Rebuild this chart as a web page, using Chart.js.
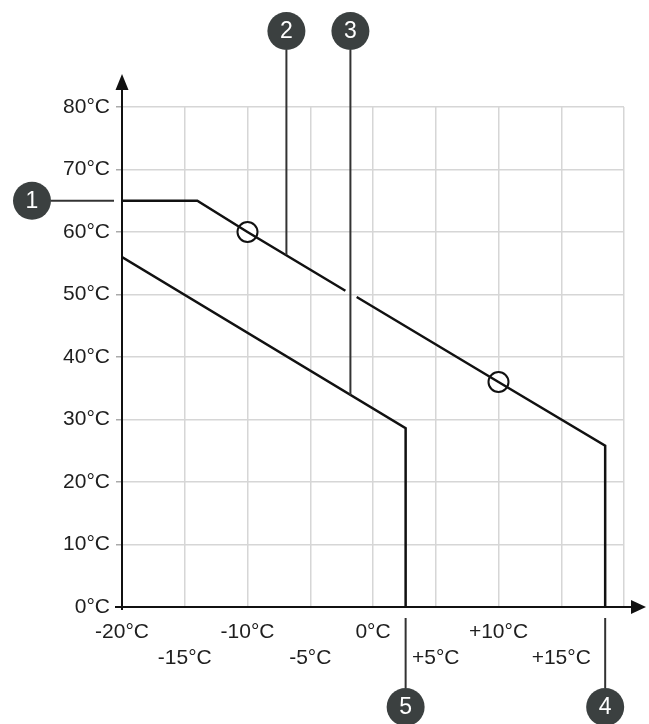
<!DOCTYPE html>
<html>
<head>
<meta charset="utf-8">
<script src="https://cdn.jsdelivr.net/npm/chart.js@4/dist/chart.umd.min.js"></script>
<style>
  html, body { margin: 0; padding: 0; background: #fff; }
  canvas { display: block; }
</style>
</head>
<body>
<canvas id="c" width="649" height="724"></canvas>
<script>
// Heating curves: outdoor temperature (x) against flow temperature (y)
const upperX = [-20, -14, -10, -2.2, -1.3, 10, 18.5, 18.5];
const upperY = [65, 65, 60, 50.6, 49.6, 36, 25.8, 0];
const upperBreakAfter = 3;          // the curve is interrupted where leader 3 passes
const lowerX = [-20, 2.6, 2.6];
const lowerY = [56, 28.6, 0];
const markerX = [-10, 10];
const markerY = [60, 36];

const xTickValues = [-20, -15, -10, -5, 0, 5, 10, 15, 20];
const xTickLabels = ['-20°C', '-15°C', '-10°C', '-5°C', '0°C', '+5°C', '+10°C', '+15°C', ''];
const xTickRow    = [0, 1, 0, 1, 0, 1, 0, 1, 0];
const yTickValues = [0, 10, 20, 30, 40, 50, 60, 70, 80];
const yTickLabels = ['0°C', '10°C', '20°C', '30°C', '40°C', '50°C', '60°C', '70°C', '80°C'];

// Numbered callouts: side, anchor value (y for left, x for top/bottom), end value of top leaders
const calloutLabels = ['1', '2', '3', '4', '5'];
const calloutSide   = ['left', 'top', 'top', 'bottom', 'bottom'];
const calloutAt     = [65, -6.9, -1.8, 18.5, 2.6];
const calloutEnd    = [null, 56.3, 33.9, null, null];

const FONT = 'Liberation Sans, Arial, Helvetica, sans-serif';

function buildUpper() {
  const pts = [];
  for (let i = 0; i < upperX.length; i++) {
    pts.push({ x: upperX[i], y: upperY[i] });
    if (i === upperBreakAfter) pts.push({ x: (upperX[i] + upperX[i + 1]) / 2, y: null });
  }
  return pts;
}

const decor = {
  id: 'decor',
  afterDatasetsDraw(chart) {
    const { ctx, scales: { x, y } } = chart;
    const x0 = x.getPixelForValue(-20);
    const y0 = y.getPixelForValue(0);
    const yTop = y.getPixelForValue(80);
    const xRight = x.getPixelForValue(20);
    ctx.save();

    // axes with arrowheads
    ctx.strokeStyle = '#111';
    ctx.fillStyle = '#111';
    ctx.lineWidth = 2;
    ctx.beginPath();
    ctx.moveTo(x0, y0 + 3);
    ctx.lineTo(x0, yTop - 20);
    ctx.moveTo(x0 - 7, y0);
    ctx.lineTo(xRight + 10, y0);
    ctx.stroke();
    ctx.beginPath();
    ctx.moveTo(x0, yTop - 33);
    ctx.lineTo(x0 - 6.5, yTop - 17);
    ctx.lineTo(x0 + 6.5, yTop - 17);
    ctx.closePath();
    ctx.fill();
    ctx.beginPath();
    ctx.moveTo(xRight + 22, y0);
    ctx.lineTo(xRight + 7, y0 - 7);
    ctx.lineTo(xRight + 7, y0 + 7);
    ctx.closePath();
    ctx.fill();

    // callouts
    const r = 19;
    for (let i = 0; i < calloutLabels.length; i++) {
      let cx, cy;
      ctx.strokeStyle = '#333';
      ctx.lineWidth = 2;
      ctx.beginPath();
      if (calloutSide[i] === 'left') {
        cy = y.getPixelForValue(calloutAt[i]);
        cx = 32;
        ctx.moveTo(cx + r, cy);
        ctx.lineTo(x0 - 8, cy);
      } else if (calloutSide[i] === 'top') {
        cx = x.getPixelForValue(calloutAt[i]);
        cy = 31;
        ctx.moveTo(cx, cy + r);
        ctx.lineTo(cx, y.getPixelForValue(calloutEnd[i]));
      } else {
        cx = x.getPixelForValue(calloutAt[i]);
        cy = 707;
        ctx.moveTo(cx, y0 + 11);
        ctx.lineTo(cx, cy - r);
      }
      ctx.stroke();
      ctx.fillStyle = '#3b4040';
      ctx.beginPath();
      ctx.arc(cx, cy, r, 0, Math.PI * 2);
      ctx.fill();
      ctx.fillStyle = '#fff';
      ctx.font = '23px ' + FONT;
      ctx.textAlign = 'center';
      ctx.textBaseline = 'middle';
      ctx.fillText(calloutLabels[i], cx, cy + 1);
    }
    ctx.restore();
  }
};

new Chart(document.getElementById('c'), {
  type: 'scatter',
  data: {
    datasets: [
      {
        data: buildUpper(),
        showLine: true,
        borderColor: '#111',
        borderWidth: 2.5,
        pointRadius: 0,
        tension: 0,
        spanGaps: false
      },
      {
        data: lowerX.map((v, i) => ({ x: v, y: lowerY[i] })),
        showLine: true,
        borderColor: '#111',
        borderWidth: 2.5,
        pointRadius: 0,
        tension: 0
      },
      {
        data: markerX.map((v, i) => ({ x: v, y: markerY[i] })),
        showLine: false,
        pointRadius: 10,
        pointBackgroundColor: '#fff',
        pointBorderColor: '#111',
        pointBorderWidth: 2
      }
    ]
  },
  options: {
    responsive: false,
    animation: false,
    events: [],
    layout: { padding: { top: 107, right: 25, left: 0, bottom: 0 } },
    plugins: { legend: { display: false }, tooltip: { enabled: false } },
    scales: {
      x: {
        type: 'linear',
        min: -20,
        max: 20,
        afterFit: s => { s.height = 117; },
        afterBuildTicks: s => { s.ticks = xTickValues.map(v => ({ value: v })); },
        border: { display: false },
        grid: { color: '#d6d6d6', lineWidth: 1.5, drawTicks: false },
        ticks: {
          padding: 12,
          color: '#1e1e1e',
          maxRotation: 0,
          autoSkip: false,
          font: { family: FONT, size: 21, lineHeight: 1.25 },
          callback: v => {
            const i = xTickValues.indexOf(v);
            const t = xTickLabels[i];
            return xTickRow[i] === 0 ? [t, ''] : ['', t];
          }
        }
      },
      y: {
        min: 0,
        max: 80,
        afterFit: s => { s.width = 122; },
        afterBuildTicks: s => { s.ticks = yTickValues.map(v => ({ value: v })); },
        border: { display: false },
        grid: { color: '#d6d6d6', lineWidth: 1.5, drawTicks: true, tickLength: 6, tickColor: '#aaa' },
        ticks: {
          padding: 6,
          color: '#1e1e1e',
          autoSkip: false,
          font: { family: FONT, size: 21 },
          callback: v => yTickLabels[yTickValues.indexOf(v)]
        }
      }
    }
  },
  plugins: [decor]
});
</script>
</body>
</html>
